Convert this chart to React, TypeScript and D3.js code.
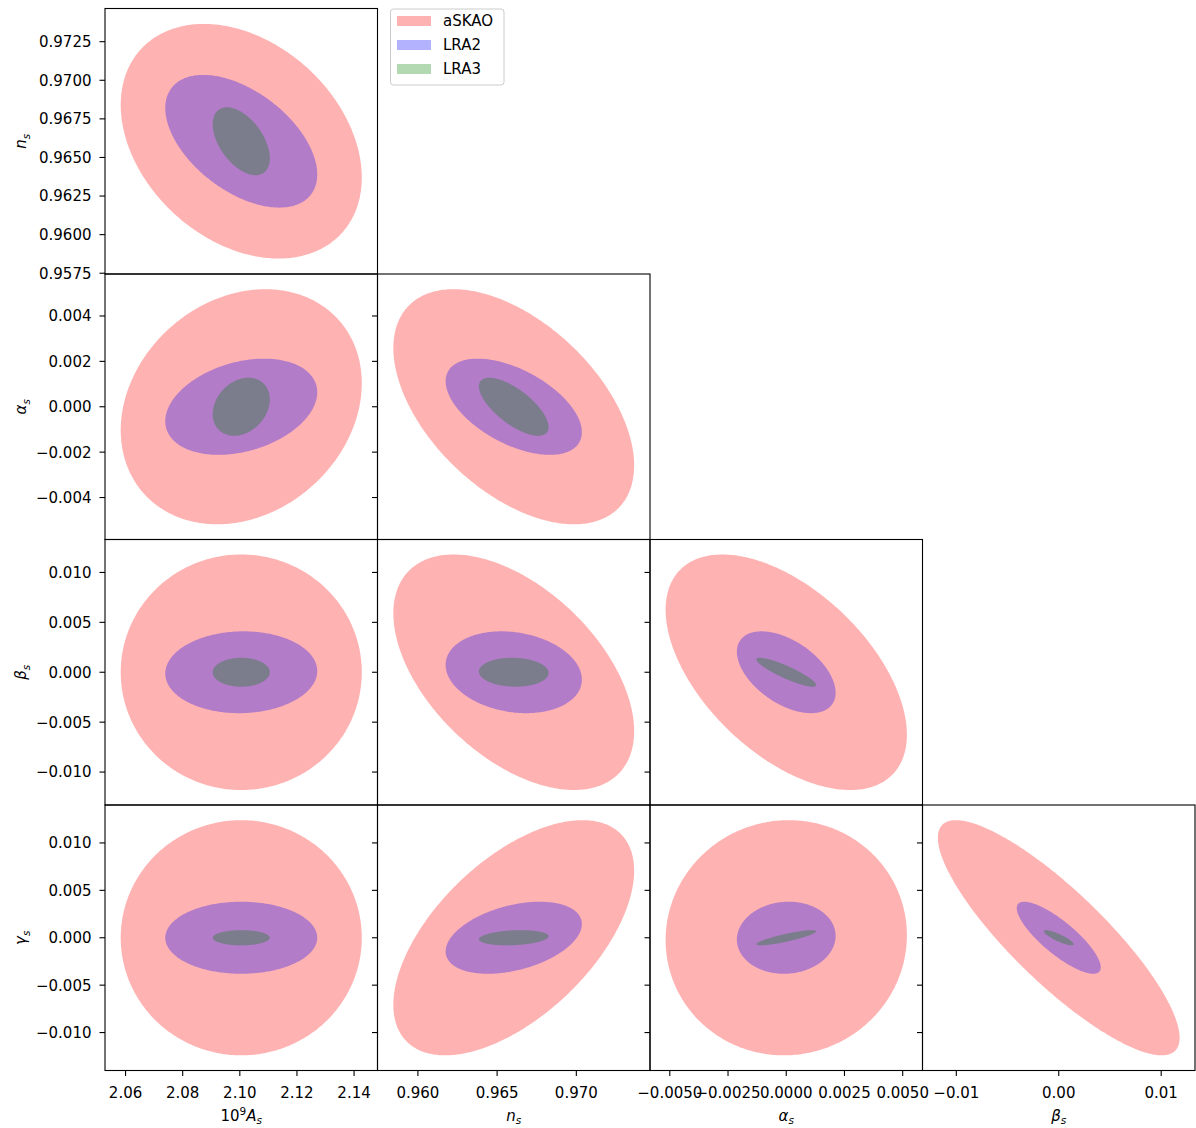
import React from "react";
import * as d3 from "d3";

// ---------------- data ----------------
const PARAM_NAMES = ["As", "ns", "alpha_s", "beta_s", "gamma_s"];
const FIDUCIAL = [2.1005, 0.96605, 0, 0, 0];
const AXIS_HALF_RANGE = [0.0477, 0.0086, 0.00585, 0.0133, 0.014];

const SURVEYS = ["aSKAO", "LRA2", "LRA3"];
const SURVEY_COLORS = ["#ff0000", "#0000ff", "#008000"];

// half-extents of the contours (per parameter) for each survey
const EXTENT_ASKAO = [0.0422, 0.0076, 0.00518, 0.0118, 0.0124];
const EXTENT_LRA2 = [0.0266, 0.0043, 0.00212, 0.0041, 0.0038];
const EXTENT_LRA3 = [0.01, 0.0022, 0.00128, 0.00145, 0.0008];

// parameter pairs (x index, y index)
const PAIRS = [
  [0, 1], [0, 2], [0, 3], [0, 4],
  [1, 2], [1, 3], [1, 4],
  [2, 3], [2, 4],
  [3, 4],
];
// correlation coefficients for each pair
const RHO_ASKAO = [-0.31, 0.2, 0.0, 0.0, -0.5, -0.5, 0.57, -0.53, 0.02, -0.85];
const RHO_LRA2 = [-0.5, 0.3, 0.03, 0.0, -0.53, -0.18, 0.38, -0.5, 0.05, -0.82];
const RHO_LRA3 = [-0.5, 0.25, 0.0, 0.0, -0.7, -0.05, 0.2, -0.88, 0.85, -0.85];

const EXTENTS = [EXTENT_ASKAO, EXTENT_LRA2, EXTENT_LRA3];
const RHOS = [RHO_ASKAO, RHO_LRA2, RHO_LRA3];

// ticks
const X_TICKS = [
  [2.06, 2.08, 2.1, 2.12, 2.14],
  [0.96, 0.965, 0.97],
  [-0.005, -0.0025, 0, 0.0025, 0.005],
  [-0.01, 0, 0.01],
];
const X_TICK_LABELS = [
  ["2.06", "2.08", "2.10", "2.12", "2.14"],
  ["0.960", "0.965", "0.970"],
  ["\u22120.0050", "\u22120.0025", "0.0000", "0.0025", "0.0050"],
  ["\u22120.01", "0.00", "0.01"],
];
const Y_TICKS = [
  [0.9575, 0.96, 0.9625, 0.965, 0.9675, 0.97, 0.9725],
  [-0.004, -0.002, 0, 0.002, 0.004],
  [-0.01, -0.005, 0, 0.005, 0.01],
  [-0.01, -0.005, 0, 0.005, 0.01],
];
const Y_TICK_LABELS = [
  ["0.9575", "0.9600", "0.9625", "0.9650", "0.9675", "0.9700", "0.9725"],
  ["\u22120.004", "\u22120.002", "0.000", "0.002", "0.004"],
  ["\u22120.010", "\u22120.005", "0.000", "0.005", "0.010"],
  ["\u22120.010", "\u22120.005", "0.000", "0.005", "0.010"],
];

// ---------------- layout ----------------
const W = 1196;
const H = 1128;
const LEFT = 105;
const TOP = 8.5;
const PW = 272.5;
const PH = 265.5;
const FONT = "'DejaVu Sans', sans-serif";
const FS = 15;
const TICK = 5.5;

type Seg = { t: string; it?: boolean; sub?: boolean; sup?: boolean };

const LABELS: Seg[][] = [
  [{ t: "10" }, { t: "9", sup: true }, { t: "A", it: true }, { t: "s", it: true, sub: true }],
  [{ t: "n", it: true }, { t: "s", it: true, sub: true }],
  [{ t: "\u03b1", it: true }, { t: "s", it: true, sub: true }],
  [{ t: "\u03b2", it: true }, { t: "s", it: true, sub: true }],
  [{ t: "\u03b3", it: true }, { t: "s", it: true, sub: true }],
];

function renderSegs(segs: Seg[]) {
  let shift = 0;
  return segs.map((s, i) => {
    let target = 0;
    if (s.sub) target = 3.5;
    if (s.sup) target = -6;
    const dy = target - shift;
    shift = target;
    return (
      <tspan
        key={i}
        dy={dy}
        fontStyle={s.it ? "italic" : "normal"}
        fontSize={s.sub || s.sup ? FS * 0.7 : FS}
      >
        {s.t}
      </tspan>
    );
  });
}

function xScaleFor(p: number, col: number) {
  const x0 = LEFT + col * PW;
  return d3
    .scaleLinear()
    .domain([FIDUCIAL[p] - AXIS_HALF_RANGE[p], FIDUCIAL[p] + AXIS_HALF_RANGE[p]])
    .range([x0, x0 + PW]);
}
function yScaleFor(p: number, row: number) {
  const y0 = TOP + row * PH;
  return d3
    .scaleLinear()
    .domain([FIDUCIAL[p] - AXIS_HALF_RANGE[p], FIDUCIAL[p] + AXIS_HALF_RANGE[p]])
    .range([y0 + PH, y0]);
}

const ANGLES = d3.range(0, 360, 1).map((d) => (d * Math.PI) / 180);

function ellipsePath(
  px: number,
  py: number,
  survey: number,
  xs: d3.ScaleLinear<number, number>,
  ys: d3.ScaleLinear<number, number>
) {
  const pairIdx = PAIRS.findIndex((p) => p[0] === px && p[1] === py);
  const rho = RHOS[survey][pairIdx];
  const ex = EXTENTS[survey][px];
  const ey = EXTENTS[survey][py];
  const s = Math.sqrt(1 - rho * rho);
  const pts: [number, number][] = ANGLES.map((t) => [
    FIDUCIAL[px] + ex * Math.cos(t),
    FIDUCIAL[py] + ey * (rho * Math.cos(t) + s * Math.sin(t)),
  ]);
  const line = d3
    .line<[number, number]>()
    .x((d) => xs(d[0]))
    .y((d) => ys(d[1]))
    .curve(d3.curveLinearClosed);
  return line(pts) || "";
}

export default function App() {
  const panels: JSX.Element[] = [];
  for (let row = 0; row < 4; row++) {
    const py = row + 1;
    for (let col = 0; col <= row; col++) {
      const px = col;
      const xs = xScaleFor(px, col);
      const ys = yScaleFor(py, row);
      const x0 = LEFT + col * PW;
      const y0 = TOP + row * PH;
      panels.push(
        <g key={`p${row}-${col}`}>
          {SURVEYS.map((s, si) => (
            <path
              key={s}
              d={ellipsePath(px, py, si, xs, ys)}
              fill={SURVEY_COLORS[si]}
              fillOpacity={0.3}
              stroke="none"
            />
          ))}
          <rect x={x0} y={y0} width={PW} height={PH} fill="none" stroke="#000" strokeWidth={1.1} />
          {Y_TICKS[row].map((v, i) => (
            <g key={`yt${i}`}>
              <line x1={x0 - TICK} x2={x0} y1={ys(v)} y2={ys(v)} stroke="#000" strokeWidth={1.1} />
              {col === 0 && (
                <text
                  x={x0 - TICK - 8}
                  y={ys(v) + 5.4}
                  textAnchor="end"
                  fontFamily={FONT}
                  fontSize={FS}
                  fill="#000"
                >
                  {Y_TICK_LABELS[row][i]}
                </text>
              )}
            </g>
          ))}
          {row === 3 &&
            X_TICKS[col].map((v, i) => (
              <g key={`xt${i}`}>
                <line
                  x1={xs(v)}
                  x2={xs(v)}
                  y1={y0 + PH}
                  y2={y0 + PH + TICK}
                  stroke="#000"
                  strokeWidth={1.1}
                />
                <text
                  x={xs(v)}
                  y={y0 + PH + 27}
                  textAnchor="middle"
                  fontFamily={FONT}
                  fontSize={FS}
                  fill="#000"
                >
                  {X_TICK_LABELS[col][i]}
                </text>
              </g>
            ))}
          {row === 3 && (
            <text
              x={x0 + PW / 2}
              y={TOP + 4 * PH + 50}
              textAnchor="middle"
              fontFamily={FONT}
              fontSize={FS}
              fill="#000"
            >
              {renderSegs(LABELS[px])}
            </text>
          )}
          {col === 0 && (
            <text
              transform={`translate(26, ${y0 + PH / 2}) rotate(-90)`}
              textAnchor="middle"
              fontFamily={FONT}
              fontSize={FS}
              fill="#000"
            >
              {renderSegs(LABELS[py])}
            </text>
          )}
        </g>
      );
    }
  }

  return (
    <div style={{ position: "absolute", left: 0, top: 0 }}>
      <svg width={W} height={H} viewBox={`0 0 ${W} ${H}`} style={{ display: "block", background: "#fff" }}>
        <rect x={0} y={0} width={W} height={H} fill="#fff" />
        {panels}
        <g>
          <rect x={390.5} y={9} width={113.5} height={76} rx={3} fill="#fff" fillOpacity={0.8} stroke="#cccccc" strokeWidth={1} />
          {SURVEYS.map((s, i) => (
            <g key={s}>
              <rect x={397} y={16 + i * 24} width={34} height={10} fill={SURVEY_COLORS[i]} fillOpacity={0.3} />
              <text x={443} y={26 + i * 24} fontFamily={FONT} fontSize={FS} fill="#000">
                {s}
              </text>
            </g>
          ))}
        </g>
      </svg>
    </div>
  );
}
